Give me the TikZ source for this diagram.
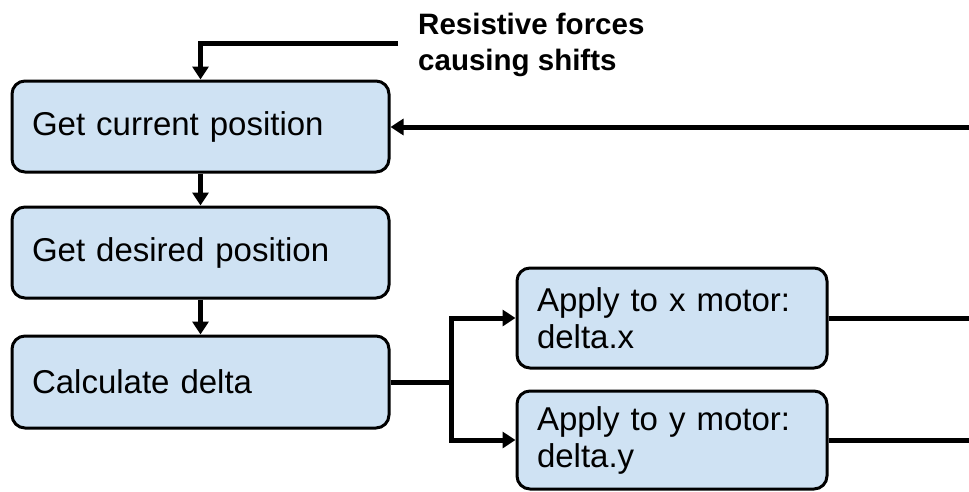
\documentclass[tikz,border=0pt]{standalone}
\usepackage{fontspec}
\setmainfont{Liberation Sans}
\usetikzlibrary{arrows.meta,calc}
\definecolor{boxfill}{HTML}{CFE2F3}
\tikzset{
  procbox/.style={draw=black, line width=3pt, fill=boxfill, rounded corners=13pt,
    inner xsep=20pt, inner ysep=0pt, align=left,
    font=\fontsize{33}{37}\selectfont},
  flow/.style={line width=5pt, -{Triangle[width=16pt,length=13pt]}},
  plain/.style={line width=5pt},
}
\begin{document}
\begin{tikzpicture}[x=1pt,y=-1pt]
\useasboundingbox (0,0) rectangle (969,491);
\node[procbox, minimum width=377pt, minimum height=91pt, text width=337pt] (b1) at (200.5,126.5) {Get current position};
\node[procbox, minimum width=377pt, minimum height=91pt, text width=337pt] (b2) at (200.5,252.5) {Get desired position};
\node[procbox, minimum width=377pt, minimum height=92pt, text width=337pt] (b3) at (200.5,382) {Calculate delta};
\node[procbox, minimum width=310pt, minimum height=100pt, text width=270pt] (bx) at (672,318) {Apply to x motor:\\delta.x};
\node[procbox, minimum width=310pt, minimum height=98pt, text width=270pt] (by) at (672,440) {Apply to y motor:\\delta.y};
\node[anchor=base west, align=left, inner sep=0pt, font=\bfseries\fontsize{29.5}{36}\selectfont] (lbl) at (418,70) {Resistive forces\\causing shifts};
\coordinate (r1) at (398,43);
\coordinate (r2) at (969,127);
\coordinate (sp) at (451,382);
\coordinate (ex) at (969,318);
\coordinate (ey) at (969,440);
\draw[flow] (r1) -| (b1.north);
\draw[flow] (r2) -- (r2 -| b1.east);
\draw[flow] (b1) -- (b2);
\draw[flow] (b2) -- (b3);
\draw[plain] (b3.east) -- (sp);
\draw[flow] (sp) |- (bx.west);
\draw[flow] (sp) |- (by.west);
\draw[plain] (bx.east) -- (ex);
\draw[plain] (by.east) -- (ey);
\end{tikzpicture}
\end{document}
